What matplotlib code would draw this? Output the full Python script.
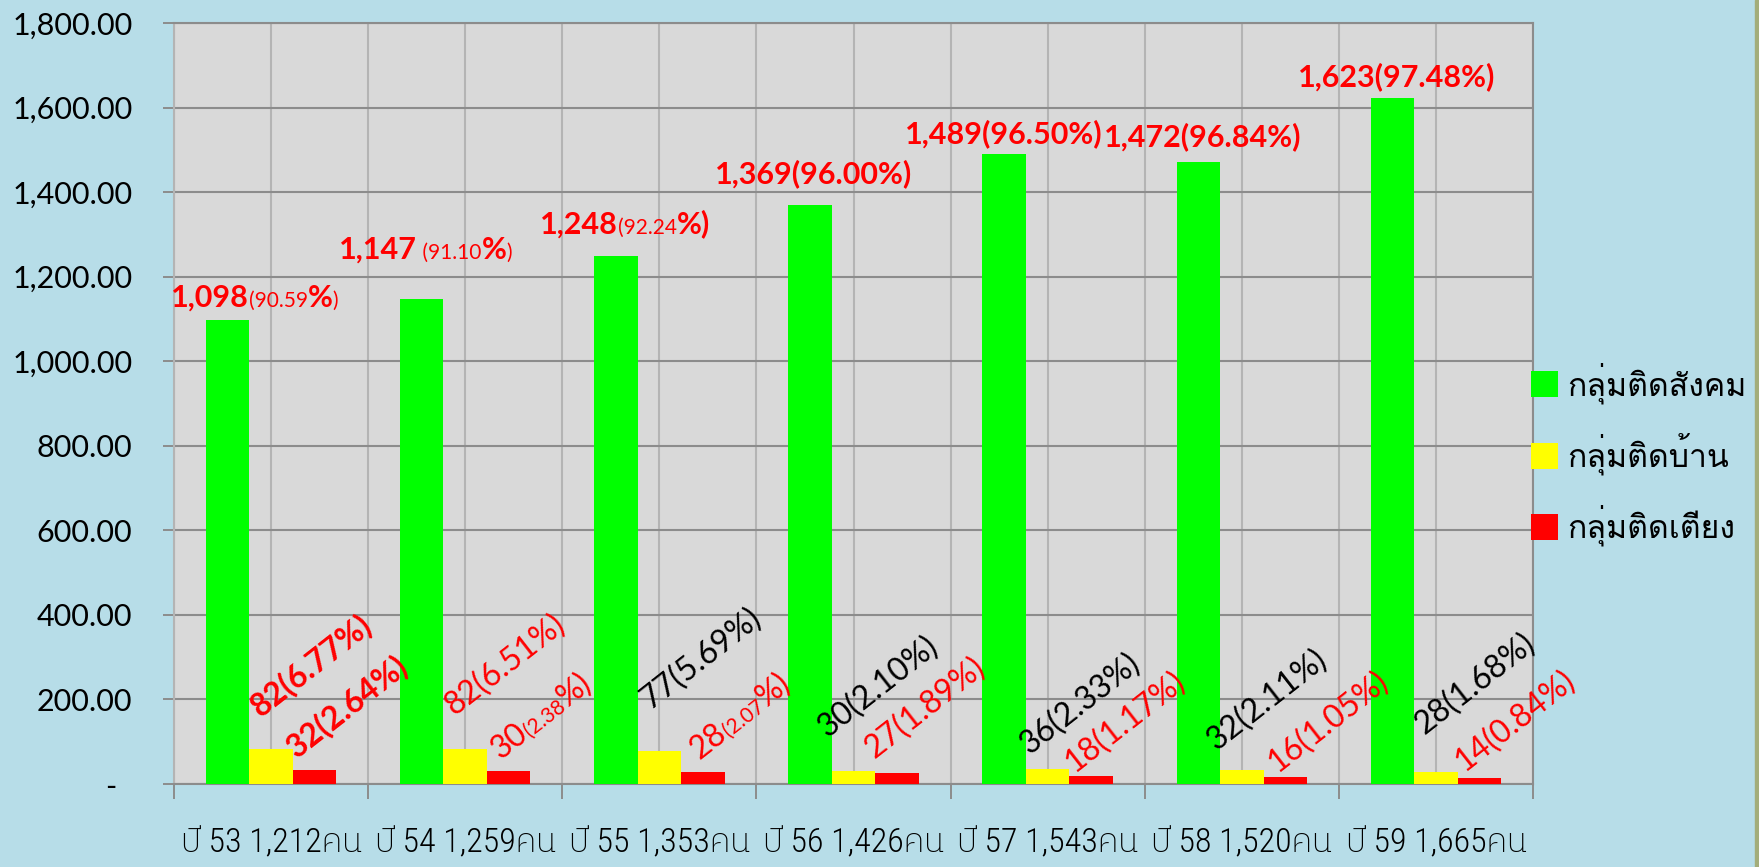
import numpy as np
import matplotlib
matplotlib.use("Agg")
import matplotlib.pyplot as plt
from matplotlib.transforms import IdentityTransform
from matplotlib.patches import Rectangle

# data
years = [53, 54, 55, 56, 57, 58, 59]
totals = [1212, 1259, 1353, 1426, 1543, 1520, 1665]
social = [1098, 1147, 1248, 1369, 1489, 1472, 1623]
home = [82, 82, 77, 30, 36, 32, 28]
bed = [32, 30, 28, 27, 18, 16, 14]
social_pct = ["90.59", "91.10", "92.24", "96.00", "96.50", "96.84", "97.48"]
home_pct = ["6.77", "6.51", "5.69", "2.10", "2.33", "2.11", "1.68"]
bed_pct = ["2.64", "2.38", "2.07", "1.89", "1.17", "1.05", "0.84"]
series_names = ["กลุ่มติดสังคม", "กลุ่มติดบ้าน", "กลุ่มติดเตียง"]
colors = ["#00ff00", "#ffff00", "#ff0000"]

LATIN = "Lato"
XLAB = ["Roboto Condensed", "IBM Plex Sans Thai", "Noto Sans Thai", "DejaVu Sans"]
LEG = ["Loma", "DejaVu Sans"]

BG = "#b7dde8"
fig = plt.figure(figsize=(17.59, 8.67), dpi=100, facecolor=BG)
ax = fig.add_axes([174 / 1759, 1 - 784 / 867, 1359 / 1759, 761 / 867])
ax.set_facecolor("#d9d9d9")

x = np.arange(len(years))
w = 0.224
b1 = ax.bar(x - w, social, w, color=colors[0], zorder=3)
b2 = ax.bar(x, home, w, color=colors[1], zorder=3)
b3 = ax.bar(x + w, bed, w, color=colors[2], zorder=3)

ax.set_xlim(-0.5, len(years) - 0.5)
ax.set_ylim(0, 1800)
ax.set_yticks(np.arange(0, 1801, 200))
ax.set_yticklabels(["-  " if v == 0 else f"{v:,.2f}" for v in np.arange(0, 1801, 200)],
                   family=LATIN, fontsize=22)
ax.set_xticks(x)
ax.set_xticklabels([f"ปี {y} {t:,}คน" for y, t in zip(years, totals)],
                   family=XLAB, fontsize=24.5, fontweight="light")
ax.set_xticks(np.arange(-0.5, len(years)), minor=True)
ax.tick_params(axis="x", which="major", length=0, pad=31)
ax.tick_params(axis="x", which="minor", length=11, width=1.4, color="#8c8c8c")
ax.tick_params(axis="y", length=8, width=1.4, color="#8c8c8c", pad=22)
ax.grid(axis="y", color="#8c8c8c", lw=1.5, zorder=1)
ax.grid(axis="x", which="both", color="#b4b4b4", lw=1.5, zorder=1)
for s in ax.spines.values():
    s.set_color("#8c8c8c")
    s.set_linewidth(1.5)
ax.spines["left"].set_color("#b4b4b4")

# thin strip of the background photo at the right edge
fig.patches.append(Rectangle((1755 / 1759, 0), 4 / 1759, 1, transform=fig.transFigure,
                             color="#a3ad7a", zorder=0))

ax.legend([b1, b2, b3], series_names, loc="upper left",
          bbox_to_anchor=(1531 / 1759, 1 - 362 / 867), bbox_transform=fig.transFigure,
          frameon=False, prop={"family": LEG, "size": 23},
          handlelength=0.86, handleheight=0.86, handletextpad=0.27,
          labelspacing=0.92, borderpad=0, borderaxespad=0)

renderer = fig.canvas.get_renderer()


def rich_text(pieces, x0, y0, angle=0, center=False):
    # lay text pieces of mixed size/weight one after another along a baseline
    arts, widths = [], []
    for s, size, weight, col in pieces:
        t = fig.text(0, 0, s, fontsize=size, fontweight=weight, color=col,
                     family=LATIN, transform=IdentityTransform(),
                     ha="left", va="baseline", zorder=5)
        widths.append(t.get_window_extent(renderer).width)
        arts.append(t)
    a = np.radians(angle)
    ux, uy = np.cos(a), np.sin(a)
    if center:
        tot = sum(widths)
        x0 -= ux * tot / 2
        y0 -= uy * tot / 2
    pos = 0
    for t, wd in zip(arts, widths):
        t.set_position((x0 + ux * pos, y0 + uy * pos))
        t.set_rotation(angle)
        t.set_rotation_mode("anchor")
        pos += wd


RED, BLK = "#ff0000", "#000000"
BIG, SMALL = 22, 15

# labels above the green bars: (center dx, baseline up) in pixels
social_off = [(27, 13), (4, 40), (9, 23), (4, 22), (0, 11), (4, 16), (4, 12)]
social_kind = ["a", "a2", "b", "c", "c", "c", "c"]
for i, (v, p) in enumerate(zip(social, social_pct)):
    px, py = ax.transData.transform((x[i] - w, v))
    dx, up = social_off[i]
    num = f"{v:,}"
    k = social_kind[i]
    if k == "a":
        pcs = [(num, BIG, "bold", RED), ("(" + p, SMALL, "normal", RED),
               ("%", BIG, "bold", RED), (")", SMALL, "normal", RED)]
    elif k == "a2":
        pcs = [(num, BIG, "bold", RED), (" (" + p, SMALL, "normal", RED),
               ("%", BIG, "bold", RED), (")", SMALL, "normal", RED)]
    elif k == "b":
        pcs = [(num, BIG, "bold", RED), ("(" + p, SMALL, "normal", RED),
               ("%)", BIG, "bold", RED)]
    else:
        pcs = [(f"{num}({p}%)", BIG, "bold", RED)]
    rich_text(pcs, px + dx, py + up, 0, center=True)

ROT = 38
home_off = [(-10, 31), (-11, 33), (-9, 41), (-26, 33), (-18, 14), (-25, 19), (-11, 37)]
home_style = [("bold", RED), ("normal", RED), ("normal", BLK), ("normal", BLK),
              ("normal", BLK), ("normal", BLK), ("normal", BLK)]
for i, (v, p) in enumerate(zip(home, home_pct)):
    px, py = ax.transData.transform((x[i], v))
    dx, up = home_off[i]
    wt, col = home_style[i]
    rich_text([(f"{v}({p}%)", 23, wt, col)], px + dx, py + up, ROT)

bed_off = [(-18, 12), (-8, 11), (-3, 12), (-22, 13), (-17, 3), (-8, 4), (-15, 6)]
bed_kind = ["bold", "mix", "mix", "plain", "plain", "plain", "plain"]
for i, (v, p) in enumerate(zip(bed, bed_pct)):
    px, py = ax.transData.transform((x[i] + w, v))
    dx, up = bed_off[i]
    k = bed_kind[i]
    if k == "bold":
        pcs = [(f"{v}({p}%)", 23, "bold", RED)]
    elif k == "mix":
        pcs = [(str(v), 23, "normal", RED), ("(" + p, 15, "normal", RED),
               ("%)", 23, "normal", RED)]
    else:
        pcs = [(f"{v}({p}%)", 23, "normal", RED)]
    rich_text(pcs, px + dx, py + up, ROT)

fig.savefig("out.png", dpi=100, facecolor=BG)
